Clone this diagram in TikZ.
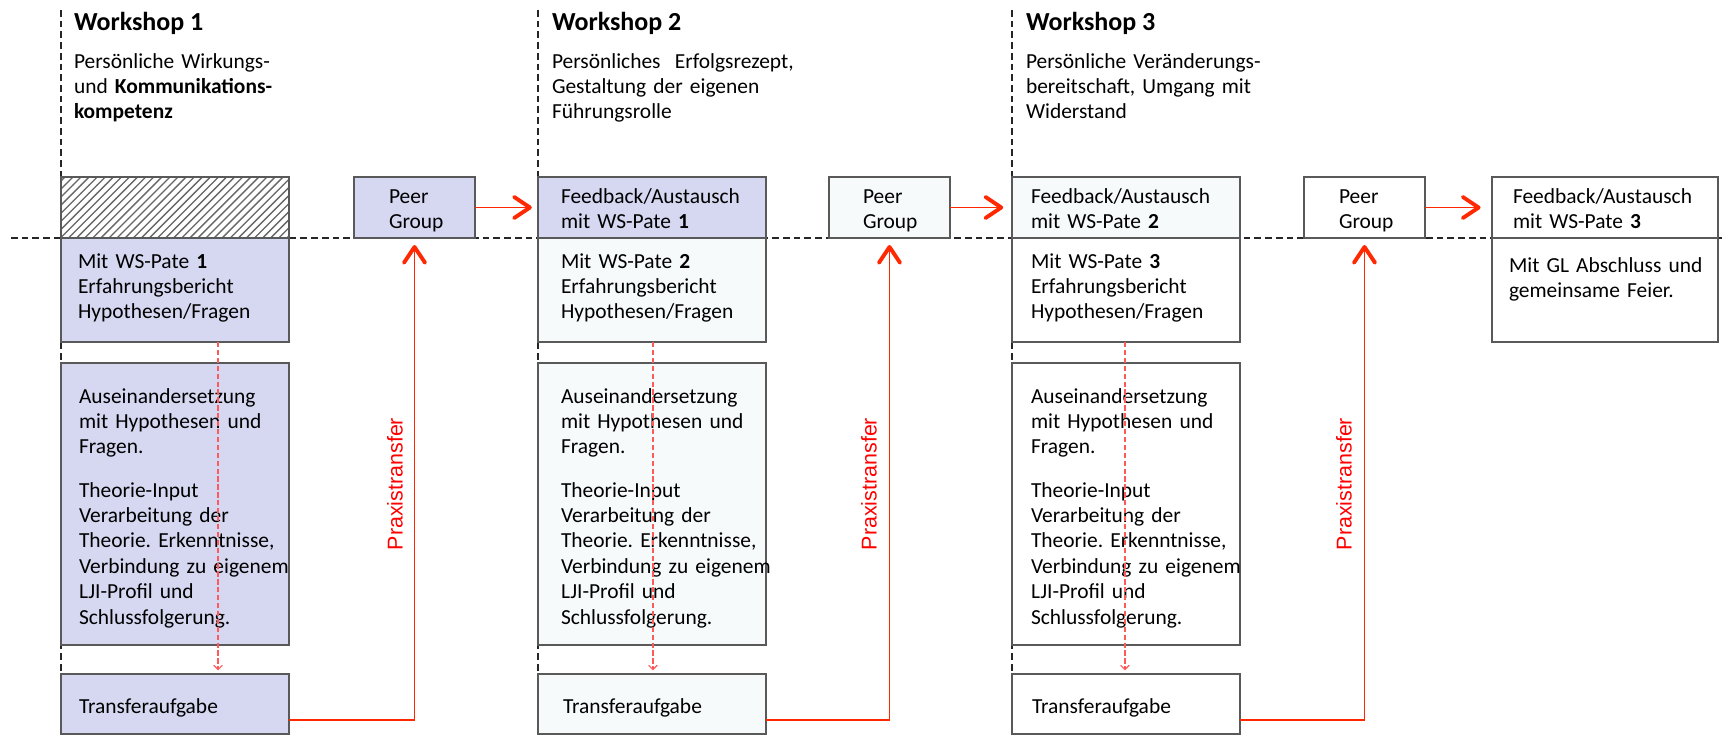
\documentclass[tikz,border=0pt]{standalone}
\usepackage{fontspec}
\setmainfont{Carlito}
\newfontfamily\arialfont{Liberation Sans}
\usetikzlibrary{arrows.meta,patterns}
\definecolor{lavender}{RGB}{214,215,241}
\definecolor{paleblue}{RGB}{246,250,251}
\definecolor{boxgray}{RGB}{89,89,89}
\definecolor{transred}{RGB}{255,40,0}
\definecolor{hintred}{RGB}{255,90,90}
\newcommand{\txtsize}{\fontsize{12.2}{14.5}\selectfont}
\newcommand{\wssize}{\fontsize{14.8}{17}\selectfont\bfseries}
\pgfdeclarepatternformonly{wshatch}{\pgfqpoint{-1pt}{-1pt}}{\pgfqpoint{5.6pt}{5.6pt}}{\pgfqpoint{4.6pt}{4.6pt}}{\pgfsetlinewidth{0.75pt}\pgfpathmoveto{\pgfqpoint{0pt}{0pt}}\pgfpathlineto{\pgfqpoint{4.7pt}{4.7pt}}\pgfusepath{stroke}}
\frenchspacing

\begin{document}
\begin{tikzpicture}[scale=0.2]
\tikzstyle{every node}+=[inner sep=0pt, outer sep=0pt]
\tikzstyle{wsbox}=[draw=boxgray, line width=1.5pt, rectangle, anchor=north west, minimum width=4.56cm]
\tikzstyle{peerbox}=[wsbox, minimum width=2.42cm, minimum height=1.22cm]
\tikzstyle{txt}=[anchor=base west, align=left, text width=5cm, font=\txtsize]
\tikzstyle{wstitle}=[anchor=base west, font=\wssize]
\tikzstyle{guide}=[black!85, line width=0.85pt, dash pattern=on 3.8pt off 2.3pt]
\tikzstyle{praxis}=[transred, line width=1.1pt, -{Straight Barb[length=9pt,width=12pt,line width=2.2pt,round]}]
\tikzstyle{hint}=[hintred, line width=0.7pt, dash pattern=on 3pt off 1.5pt, -{Straight Barb[length=2.5pt,width=5pt]}]
\tikzstyle{praxislabel}=[rotate=90, text=red, font=\arialfont\fontsize{12.2}{14}\selectfont]
\useasboundingbox (0,0) rectangle (172.5,-73.5);
\draw [guide] (6.1,-1.0) -- (6.1,-73.5);
\draw [guide] (53.8,-1.0) -- (53.8,-73.5);
\draw [guide] (101.2,-1.0) -- (101.2,-73.5);
\draw [guide] (1.1,-23.8) -- (172.5,-23.8);
\node [wstitle] (w1) at (7.4,-3.0) {Workshop 1};
\node [txt] (d1) at (7.4,-6.8) {Persönliche Wirkungs-\\und \textbf{Kommunikations-}\\\textbf{kompetenz}};
\node [wstitle] (w2) at (55.2,-3.0) {Workshop 2};
\node [txt] (d2) at (55.2,-6.8) {Persönliches~ Erfolgsrezept,\\Gestaltung der eigenen\\Führungsrolle};
\node [wstitle] (w3) at (102.6,-3.0) {Workshop 3};
\node [txt] (d3) at (102.6,-6.8) {Persönliche Veränderungs-\\bereitschaft, Umgang mit\\Widerstand};
\node [wsbox, minimum height=1.22cm, fill=white, pattern=wshatch, pattern color=black!60] (h1) at (6.1,-17.7) {};
\node [wsbox, minimum height=2.08cm, fill=lavender] (m1) at (6.1,-23.8) {};
\node [wsbox, minimum height=5.64cm, fill=lavender] (a1) at (6.1,-36.3) {};
\node [wsbox, minimum height=1.2cm, fill=lavender] (t1) at (6.1,-67.4) {};
\node [peerbox, fill=lavender] (p1) at (35.4,-17.7) {};
\node [wsbox, minimum height=1.22cm, fill=lavender] (f1) at (53.8,-17.7) {};
\node [wsbox, minimum height=2.08cm, fill=paleblue] (m2) at (53.8,-23.8) {};
\node [wsbox, minimum height=5.64cm, fill=paleblue] (a2) at (53.8,-36.3) {};
\node [wsbox, minimum height=1.2cm, fill=paleblue] (t2) at (53.8,-67.4) {};
\node [peerbox, fill=paleblue] (p2) at (82.9,-17.7) {};
\node [wsbox, minimum height=1.22cm, fill=paleblue] (f2) at (101.2,-17.7) {};
\node [wsbox, minimum height=2.08cm, fill=white] (m3) at (101.2,-23.8) {};
\node [wsbox, minimum height=5.64cm, fill=white] (a3) at (101.2,-36.3) {};
\node [wsbox, minimum height=1.2cm, fill=white] (t3) at (101.2,-67.4) {};
\node [peerbox, fill=white] (p3) at (130.4,-17.7) {};
\node [wsbox, minimum width=4.52cm, minimum height=1.22cm, fill=white] (f3) at (149.2,-17.7) {};
\node [wsbox, minimum width=4.52cm, minimum height=2.08cm, fill=white] (g4) at (149.2,-23.8) {};
\node [txt] (m1t) at (7.8,-26.8) {Mit WS-Pate \textbf{1}\\Erfahrungsbericht\\Hypothesen/Fragen};
\node [txt] (m2t) at (56.1,-26.8) {Mit WS-Pate \textbf{2}\\Erfahrungsbericht\\Hypothesen/Fragen};
\node [txt] (m3t) at (103.1,-26.8) {Mit WS-Pate \textbf{3}\\Erfahrungsbericht\\Hypothesen/Fragen};
\node [txt] (g4t) at (150.9,-27.2) {Mit GL Abschluss und\\gemeinsame Feier.};
\node [txt] (f1t) at (56.1,-20.3) {Feedback/Austausch\\mit WS-Pate \textbf{1}};
\node [txt] (f2t) at (103.1,-20.3) {Feedback/Austausch\\mit WS-Pate \textbf{2}};
\node [txt] (f3t) at (151.3,-20.3) {Feedback/Austausch\\mit WS-Pate \textbf{3}};
\node [txt] (p1t) at (38.9,-20.3) {Peer\\Group};
\node [txt] (p2t) at (86.3,-20.3) {Peer\\Group};
\node [txt] (p3t) at (133.9,-20.3) {Peer\\Group};
\node [txt] (a1t) at (7.9,-40.3) {Auseinandersetzung\\mit Hypothesen und\\Fragen.\\[10pt]Theorie-Input\\Verarbeitung der\\Theorie. Erkenntnisse,\\Verbindung zu eigenem\\LJI-Profil und\\Schlussfolgerung.};
\node [txt] (a2t) at (56.1,-40.3) {Auseinandersetzung\\mit Hypothesen und\\Fragen.\\[10pt]Theorie-Input\\Verarbeitung der\\Theorie. Erkenntnisse,\\Verbindung zu eigenem\\LJI-Profil und\\Schlussfolgerung.};
\node [txt] (a3t) at (103.1,-40.3) {Auseinandersetzung\\mit Hypothesen und\\Fragen.\\[10pt]Theorie-Input\\Verarbeitung der\\Theorie. Erkenntnisse,\\Verbindung zu eigenem\\LJI-Profil und\\Schlussfolgerung.};
\node [txt] (t1t) at (7.9,-71.3) {Transferaufgabe};
\node [txt] (t2t) at (56.3,-71.3) {Transferaufgabe};
\node [txt] (t3t) at (103.2,-71.3) {Transferaufgabe};
\node [praxislabel] (x1) at (39.5,-48.4) {Praxistransfer};
\node [praxislabel] (x2) at (86.9,-48.4) {Praxistransfer};
\node [praxislabel] (x3) at (134.4,-48.4) {Praxistransfer};
\draw [hint, shorten >=2pt] ([xshift=15.7cm]m1.south west) -- ([xshift=15.7cm]t1.north west);
\draw [hint, shorten >=2pt] ([xshift=11.5cm]m2.south west) -- ([xshift=11.5cm]t2.north west);
\draw [hint, shorten >=2pt] ([xshift=11.3cm]m3.south west) -- ([xshift=11.3cm]t3.north west);
\draw [praxis, shorten >=3.5pt] (p1.east) -- (f1.west);
\draw [praxis, shorten >=5pt] (p2.east) -- (f2.west);
\draw [praxis, shorten >=6.5pt] (p3.east) -- (f3.west);
\draw [praxis, shorten >=4pt] (t1.east |- 0,-72.0) -| (p1.south);
\draw [praxis, shorten >=4pt] (t2.east |- 0,-72.0) -| (p2.south);
\draw [praxis, shorten >=4pt] (t3.east |- 0,-72.0) -| (p3.south);
\end{tikzpicture}
\end{document}
